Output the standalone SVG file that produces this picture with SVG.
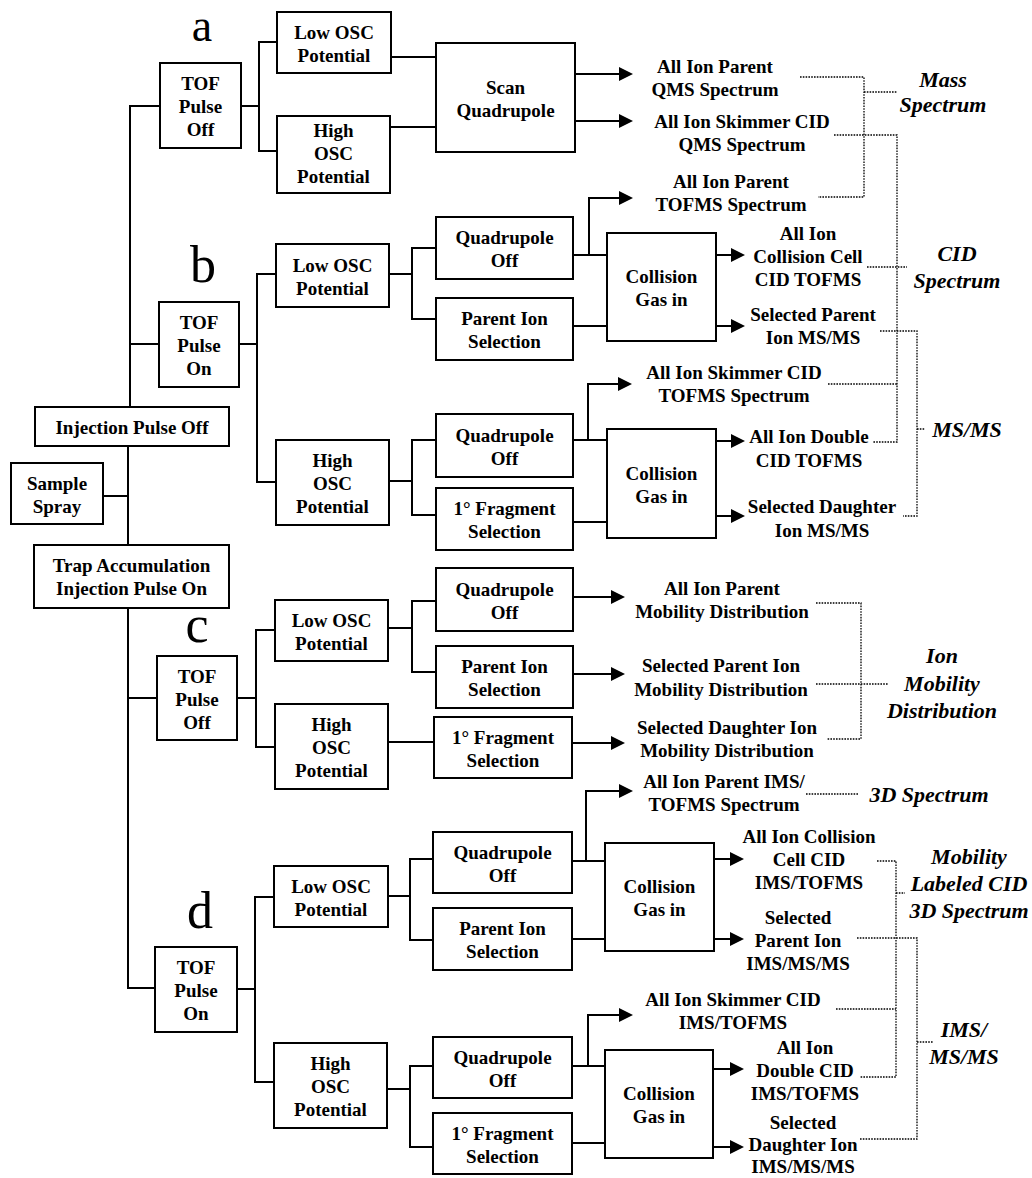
<svg xmlns="http://www.w3.org/2000/svg" width="1032" height="1178" viewBox="0 0 1032 1178">
<style>
.box{fill:#fff;stroke:#000;stroke-width:2}
.ln{fill:none;stroke:#000;stroke-width:2}
.ar{fill:none;stroke:#000;stroke-width:2;marker-end:url(#arr)}
.dt{fill:none;stroke:#000;stroke-width:1.3;stroke-dasharray:1.6 1.2}
text{font-family:"Liberation Serif","Times New Roman",serif;fill:#000}
.t{font-size:19px;font-weight:bold;text-anchor:middle}
.c{font-size:22px;font-weight:bold;font-style:italic;text-anchor:middle}
.L{font-size:52px;text-anchor:middle}
</style>
<defs>
<marker id="arr" markerWidth="14" markerHeight="14" refX="12" refY="7" orient="auto" markerUnits="userSpaceOnUse"><path d="M0,0 L14,7 L0,14 z" fill="#000"/></marker>
</defs>
<rect width="1032" height="1178" fill="#fff"/>

<g id="connectors">
<path class="ln" d="M130,407 V106 H160"/>
<path class="ln" d="M130,344 H159"/>
<path class="ln" d="M128,446 V545"/>
<path class="ln" d="M103,496 H128"/>
<path class="ln" d="M128,608 V988 H155"/>
<path class="ln" d="M128,698 H157"/>
<path class="ln" d="M241,106 H259"/>
<path class="ln" d="M277,42 H259 V151 H277"/>
<path class="ln" d="M391,57 H436"/>
<path class="ln" d="M390,127 H436"/>
<path class="ar" d="M575,74 H631"/>
<path class="ar" d="M575,121 H631"/>
<path class="ln" d="M239,344 H257"/>
<path class="ln" d="M276,274 H257 V482 H276"/>
<path class="ln" d="M389,274 H412"/>
<path class="ln" d="M436,248 H412 V319 H436"/>
<path class="ln" d="M389,481 H412"/>
<path class="ln" d="M436,440 H412 V515 H436"/>
<path class="ln" d="M573,255 H607"/>
<path class="ar" d="M589,255 V198 H631"/>
<path class="ln" d="M573,326 H607"/>
<path class="ar" d="M716,255 H743"/>
<path class="ar" d="M716,326 H743"/>
<path class="ln" d="M573,440 H607"/>
<path class="ar" d="M588,440 V384 H630"/>
<path class="ln" d="M573,522 H607"/>
<path class="ar" d="M716,441 H743"/>
<path class="ar" d="M716,516 H743"/>
<path class="ln" d="M237,698 H256"/>
<path class="ln" d="M275,630 H256 V747 H275"/>
<path class="ln" d="M388,628 H412"/>
<path class="ln" d="M436,601 H412 V672 H436"/>
<path class="ln" d="M388,742 H434"/>
<path class="ar" d="M573,597 H623"/>
<path class="ar" d="M573,674 H623"/>
<path class="ar" d="M572,743 H623"/>
<path class="ln" d="M237,989 H255"/>
<path class="ln" d="M274,897 H255 V1082 H274"/>
<path class="ln" d="M388,896 H410"/>
<path class="ln" d="M433,859 H410 V940 H433"/>
<path class="ln" d="M387,1089 H410"/>
<path class="ln" d="M433,1066 H410 V1147 H433"/>
<path class="ln" d="M572,861 H605"/>
<path class="ar" d="M586,861 V791 H631"/>
<path class="ln" d="M572,939 H605"/>
<path class="ar" d="M714,859 H742"/>
<path class="ar" d="M714,939 H742"/>
<path class="ln" d="M572,1066 H605"/>
<path class="ar" d="M588,1066 V1015 H631"/>
<path class="ln" d="M572,1143 H605"/>
<path class="ar" d="M713,1069 H742"/>
<path class="ar" d="M713,1147 H742"/>
<path class="dt" d="M800,77 H864 V197 H818"/>
<path class="dt" d="M864,92 H897"/>
<path class="dt" d="M834,135 H897 V442 H873"/>
<path class="dt" d="M867,267 H907"/>
<path class="dt" d="M828,384 H897"/>
<path class="dt" d="M880,331 H917 V516 H903"/>
<path class="dt" d="M917,429 H925"/>
<path class="dt" d="M816,603 H861 V739 H827"/>
<path class="dt" d="M816,684 H888"/>
<path class="dt" d="M806,794 H859"/>
<path class="dt" d="M877,861 H896 V1077 H860"/>
<path class="dt" d="M836,1009 H896"/>
<path class="dt" d="M896,893 H905"/>
<path class="dt" d="M857,938 H917 V1139 H860"/>
<path class="dt" d="M917,1042 H933"/>
</g>

<text class="L" x="202" y="41" style="font-size:46px">a</text>
<text class="L" x="203" y="282">b</text>
<text class="L" x="197" y="642">c</text>
<text class="L" x="200" y="928">d</text>

<g id="injOff"><rect class="box" x="35" y="407" width="194" height="39"/><text class="t" x="132" y="434">Injection Pulse Off</text></g>
<g id="sample"><rect class="box" x="11" y="463" width="92" height="61"/><text class="t" x="57" y="490">Sample</text><text class="t" x="57" y="513">Spray</text></g>
<g id="trap"><rect class="box" x="34" y="545" width="195" height="63"/><text class="t" x="131.5" y="572">Trap Accumulation</text><text class="t" x="131.5" y="595">Injection Pulse On</text></g>

<g id="tofA"><rect class="box" x="160" y="63" width="81" height="85"/><text class="t" x="200.5" y="90">TOF</text><text class="t" x="200.5" y="113">Pulse</text><text class="t" x="200.5" y="136">Off</text></g>
<g id="lowA"><rect class="box" x="277" y="12" width="114" height="61"/><text class="t" x="334" y="38.5">Low OSC</text><text class="t" x="334" y="61.5">Potential</text></g>
<g id="highA"><rect class="box" x="277" y="116" width="113" height="77"/><text class="t" x="333.5" y="137">High</text><text class="t" x="333.5" y="160">OSC</text><text class="t" x="333.5" y="183">Potential</text></g>
<g id="scanQ"><rect class="box" x="436" y="43" width="139" height="109"/><text class="t" x="505.5" y="94">Scan</text><text class="t" x="505.5" y="117">Quadrupole</text></g>
<g id="outA1"><text class="t" x="715" y="73">All Ion Parent</text><text class="t" x="715" y="96">QMS Spectrum</text></g>
<g id="outA2"><text class="t" x="742" y="128">All Ion Skimmer CID</text><text class="t" x="742" y="151">QMS Spectrum</text></g>

<g id="tofB"><rect class="box" x="159" y="302" width="80" height="85"/><text class="t" x="199" y="329">TOF</text><text class="t" x="199" y="352">Pulse</text><text class="t" x="199" y="375">On</text></g>
<g id="lowB"><rect class="box" x="276" y="244" width="113" height="63"/><text class="t" x="332.5" y="271.5">Low OSC</text><text class="t" x="332.5" y="294.5">Potential</text></g>
<g id="highB"><rect class="box" x="276" y="440" width="113" height="85"/><text class="t" x="332.5" y="467">High</text><text class="t" x="332.5" y="490">OSC</text><text class="t" x="332.5" y="513">Potential</text></g>
<g id="quadB1"><rect class="box" x="436" y="217" width="137" height="62"/><text class="t" x="504.5" y="244">Quadrupole</text><text class="t" x="504.5" y="267">Off</text></g>
<g id="parentB"><rect class="box" x="436" y="298" width="137" height="62"/><text class="t" x="504.5" y="325">Parent Ion</text><text class="t" x="504.5" y="348">Selection</text></g>
<g id="quadB2"><rect class="box" x="436" y="414" width="137" height="63"/><text class="t" x="504.5" y="441.5">Quadrupole</text><text class="t" x="504.5" y="464.5">Off</text></g>
<g id="fragB"><rect class="box" x="436" y="488" width="137" height="62"/><text class="t" x="504.5" y="515">1° Fragment</text><text class="t" x="504.5" y="538">Selection</text></g>
<g id="collB1"><rect class="box" x="607" y="233" width="109" height="108"/><text class="t" x="661.5" y="283">Collision</text><text class="t" x="661.5" y="306">Gas in</text></g>
<g id="collB2"><rect class="box" x="607" y="429" width="109" height="109"/><text class="t" x="661.5" y="479.5">Collision</text><text class="t" x="661.5" y="502.5">Gas in</text></g>
<g id="outB1"><text class="t" x="731" y="188">All Ion Parent</text><text class="t" x="731" y="211">TOFMS Spectrum</text></g>
<g id="outB2"><text class="t" x="808" y="240">All Ion</text><text class="t" x="808" y="263">Collision Cell</text><text class="t" x="808" y="286">CID TOFMS</text></g>
<g id="outB3"><text class="t" x="813" y="321">Selected Parent</text><text class="t" x="813" y="344">Ion MS/MS</text></g>
<g id="outB4"><text class="t" x="734" y="379">All Ion Skimmer CID</text><text class="t" x="734" y="402">TOFMS Spectrum</text></g>
<g id="outB5"><text class="t" x="809" y="443">All Ion Double</text><text class="t" x="809" y="467">CID TOFMS</text></g>
<g id="outB6"><text class="t" x="822" y="513">Selected Daughter</text><text class="t" x="822" y="537">Ion MS/MS</text></g>

<g id="tofC"><rect class="box" x="157" y="656" width="80" height="84"/><text class="t" x="197" y="682.5">TOF</text><text class="t" x="197" y="705.5">Pulse</text><text class="t" x="197" y="728.5">Off</text></g>
<g id="lowC"><rect class="box" x="275" y="600" width="113" height="61"/><text class="t" x="331.5" y="626.5">Low OSC</text><text class="t" x="331.5" y="649.5">Potential</text></g>
<g id="highC"><rect class="box" x="275" y="704" width="113" height="85"/><text class="t" x="331.5" y="731">High</text><text class="t" x="331.5" y="754">OSC</text><text class="t" x="331.5" y="777">Potential</text></g>
<g id="quadC"><rect class="box" x="436" y="568" width="137" height="63"/><text class="t" x="504.5" y="595.5">Quadrupole</text><text class="t" x="504.5" y="618.5">Off</text></g>
<g id="parentC"><rect class="box" x="436" y="646" width="137" height="62"/><text class="t" x="504.5" y="673">Parent Ion</text><text class="t" x="504.5" y="696">Selection</text></g>
<g id="fragC"><rect class="box" x="434" y="717" width="138" height="61"/><text class="t" x="503" y="743.5">1° Fragment</text><text class="t" x="503" y="766.5">Selection</text></g>
<g id="outC1"><text class="t" x="722" y="595">All Ion Parent</text><text class="t" x="722" y="618">Mobility Distribution</text></g>
<g id="outC2"><text class="t" x="721" y="672">Selected Parent Ion</text><text class="t" x="721" y="696">Mobility Distribution</text></g>
<g id="outC3"><text class="t" x="727" y="734">Selected Daughter Ion</text><text class="t" x="727" y="757">Mobility Distribution</text></g>

<g id="tofD"><rect class="box" x="155" y="947" width="82" height="85"/><text class="t" x="196" y="974">TOF</text><text class="t" x="196" y="997">Pulse</text><text class="t" x="196" y="1020">On</text></g>
<g id="lowD"><rect class="box" x="274" y="866" width="114" height="61"/><text class="t" x="331" y="892.5">Low OSC</text><text class="t" x="331" y="915.5">Potential</text></g>
<g id="highD"><rect class="box" x="274" y="1043" width="113" height="85"/><text class="t" x="330.5" y="1070">High</text><text class="t" x="330.5" y="1093">OSC</text><text class="t" x="330.5" y="1116">Potential</text></g>
<g id="quadD1"><rect class="box" x="433" y="832" width="139" height="61"/><text class="t" x="502.5" y="858.5">Quadrupole</text><text class="t" x="502.5" y="881.5">Off</text></g>
<g id="parentD"><rect class="box" x="433" y="908" width="139" height="62"/><text class="t" x="502.5" y="935">Parent Ion</text><text class="t" x="502.5" y="958">Selection</text></g>
<g id="quadD2"><rect class="box" x="433" y="1037" width="139" height="61"/><text class="t" x="502.5" y="1063.5">Quadrupole</text><text class="t" x="502.5" y="1086.5">Off</text></g>
<g id="fragD"><rect class="box" x="433" y="1113" width="139" height="61"/><text class="t" x="502.5" y="1139.5">1° Fragment</text><text class="t" x="502.5" y="1162.5">Selection</text></g>
<g id="collD1"><rect class="box" x="605" y="843" width="109" height="108"/><text class="t" x="659.5" y="893">Collision</text><text class="t" x="659.5" y="916">Gas in</text></g>
<g id="collD2"><rect class="box" x="605" y="1050" width="108" height="108"/><text class="t" x="659" y="1100">Collision</text><text class="t" x="659" y="1123">Gas in</text></g>
<g id="outD1"><text class="t" x="724" y="788">All Ion Parent IMS/</text><text class="t" x="724" y="811">TOFMS Spectrum</text></g>
<g id="outD2"><text class="t" x="809" y="843">All Ion Collision</text><text class="t" x="809" y="866">Cell CID</text><text class="t" x="809" y="889">IMS/TOFMS</text></g>
<g id="outD3"><text class="t" x="798" y="924">Selected</text><text class="t" x="798" y="947">Parent Ion</text><text class="t" x="798" y="970">IMS/MS/MS</text></g>
<g id="outD4"><text class="t" x="733" y="1006">All Ion Skimmer CID</text><text class="t" x="733" y="1029">IMS/TOFMS</text></g>
<g id="outD5"><text class="t" x="805" y="1054">All Ion</text><text class="t" x="805" y="1077">Double CID</text><text class="t" x="805" y="1100">IMS/TOFMS</text></g>
<g id="outD6"><text class="t" x="803" y="1129">Selected</text><text class="t" x="803" y="1151">Daughter Ion</text><text class="t" x="803" y="1173">IMS/MS/MS</text></g>

<g id="catMass"><text class="c" x="943" y="87">Mass</text><text class="c" x="943" y="112">Spectrum</text></g>
<g id="catCID"><text class="c" x="957" y="261">CID</text><text class="c" x="957" y="288">Spectrum</text></g>
<g id="catMSMS"><text class="c" x="967" y="437">MS/MS</text></g>
<g id="catIMD"><text class="c" x="942" y="663">Ion</text><text class="c" x="942" y="691">Mobility</text><text class="c" x="942" y="718">Distribution</text></g>
<g id="cat3D"><text class="c" x="929" y="802">3D Spectrum</text></g>
<g id="catMLC"><text class="c" x="969" y="864">Mobility</text><text class="c" x="969" y="891">Labeled CID</text><text class="c" x="969" y="918">3D Spectrum</text></g>
<g id="catIMSMS"><text class="c" x="964" y="1037">IMS/</text><text class="c" x="964" y="1064">MS/MS</text></g>
</svg>
